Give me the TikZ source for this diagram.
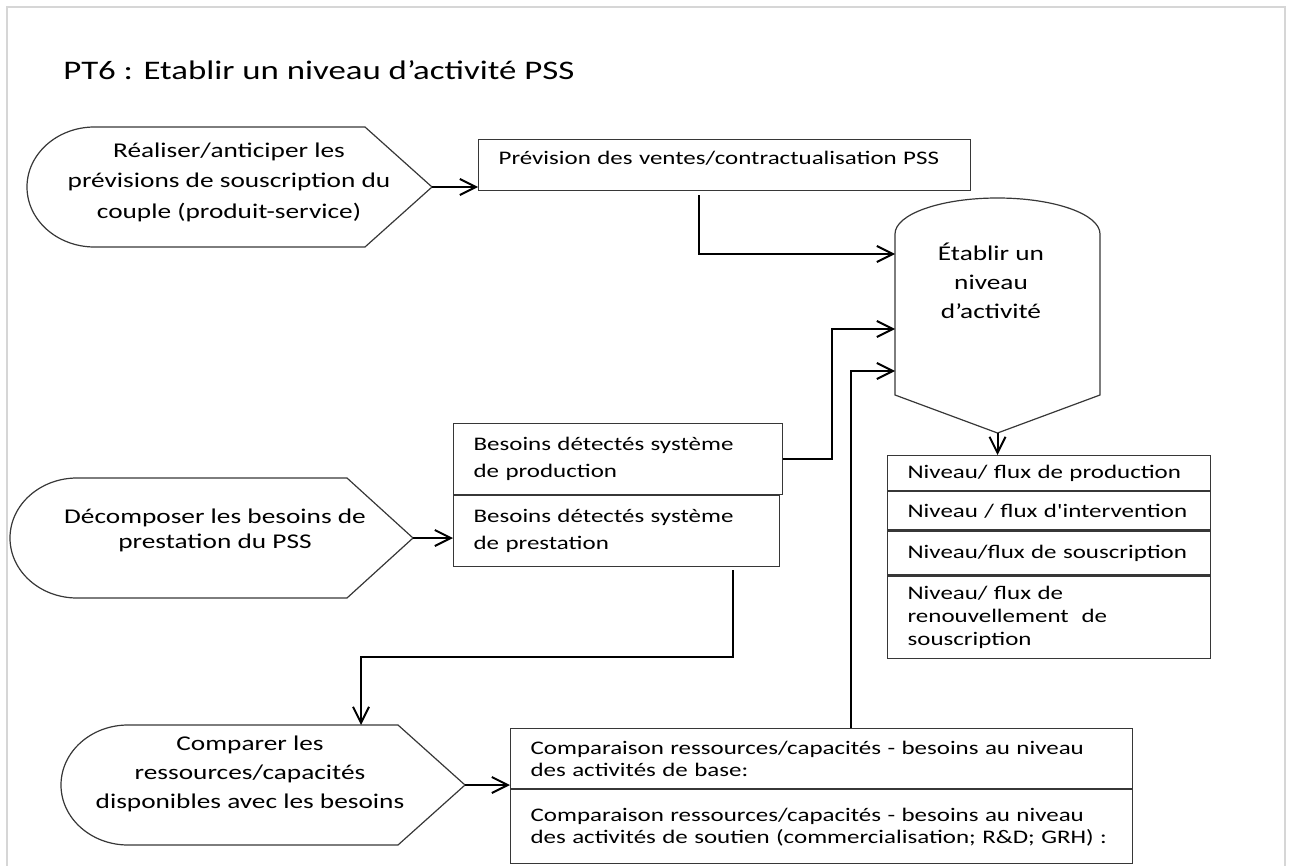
\documentclass[tikz,border=0pt]{standalone}
\usepackage{fontspec}
\usepackage{tikz}
\usetikzlibrary{positioning,arrows.meta}
\newfontfamily\calib{Carlito}[FakeStretch=1.3]
\definecolor{framegray}{RGB}{214,214,214}
\definecolor{edgegray}{RGB}{55,55,55}

\begin{document}
\begin{tikzpicture}[x=0.5pt,y=-0.5pt,
  box/.style={rectangle,draw=edgegray,line width=0.6pt,inner xsep=10pt,inner ysep=0pt,align=left,anchor=north west,font=\calib\fontsize{9.6}{#1}\selectfont},
  box/.default=13.5,
  lbl/.style={inner sep=0pt,align=center,font=\calib\fontsize{10.5}{#1}\selectfont},
  outline/.style={draw=edgegray,line width=0.6pt},
  conn/.style={line width=1pt,-{Straight Barb[length=8pt,width=8pt]}}]
\useasboundingbox (0,0) rectangle (1290,866);
\draw[framegray,line width=1pt] (7,866) -- (7,7) -- (1285,7) -- (1285,866);

\node[anchor=base west,inner sep=0pt,font=\calib\fontsize{13.4}{16}\selectfont] (title) at (63,80) {PT6 : Etablir un niveau d’activité PSS};

% left process shapes
\coordinate (Atip) at (432,187);
\coordinate (Btip) at (413,538);
\coordinate (Ctip) at (465,785);
\coordinate (Ctop) at (361,725);
\draw[outline] (94.5,127) -- (365,127) -- (Atip) -- (365,247) -- (94.5,247) arc[start angle=270,end angle=90,x radius=33.75pt,y radius=30pt] -- cycle;
\draw[outline] (77,478) -- (347,478) -- (Btip) -- (347,598) -- (77,598) arc[start angle=270,end angle=90,x radius=33.5pt,y radius=30pt] -- cycle;
\draw[outline] (128,725) -- (398,725) -- (Ctip) -- (398,845) -- (128,845) arc[start angle=270,end angle=90,x radius=33.5pt,y radius=30pt] -- cycle;
\node[lbl=15.25] (realiser) at (229,182) {Réaliser/anticiper les\\prévisions de souscription du\\couple (produit-service)};
\node[lbl=12.5] (decomp) at (215,530) {Décomposer les besoins de\\prestation du PSS};
\node[lbl=14.5] (comparer) at (250,774) {Comparer les\\ressources/capacités\\disponibles avec les besoins};

% central shape
\coordinate (cylpt) at (997.5,433);
\coordinate (inprev) at (895,254);
\coordinate (inprod) at (895,329);
\coordinate (incmp) at (895,371);
\draw[outline] (895,395) -- (895,234) arc[start angle=180,end angle=0,x radius=51.25pt,y radius=18pt] -- (1100,395) -- (cylpt) -- cycle;
\node[lbl=14.5] (niveau) at (991,281) {Établir un\\niveau\\d’activité};

% boxes
\node[box,text width=226pt,minimum height=25.5pt,text depth=7.5pt] (prev) at (478,139) {Prévision des ventes/contractualisation PSS};
\node[box,text width=144.5pt,minimum height=35.5pt] (prod) at (453,423) {Besoins détectés système\\de production};
\node[box,text width=143pt,minimum height=35.5pt,below=0pt of prod.south west,anchor=north west] (prest) {Besoins détectés système\\de prestation};
\node[box,text width=141.5pt,minimum height=17.5pt] (row1) at (887,455) {Niveau/ flux de production};
\node[box,text width=141.5pt,minimum height=19pt,below=0pt of row1] (row2) {Niveau / flux d'intervention};
\node[box,text width=141.5pt,minimum height=22pt,below=0pt of row2] (row3) {Niveau/flux de souscription};
\node[box=11.5,text width=141.5pt,minimum height=41pt,below=0pt of row3] (row4) {Niveau/ flux de\\renouvellement\ \ de\\souscription};
\node[box=11,text width=291pt,minimum height=30pt] (cmp1) at (510,728) {Comparaison ressources/capacités - besoins au niveau\\des activités de base:};
\node[box=11,text width=291pt,minimum height=37pt,below=0pt of cmp1] (cmp2) {Comparaison ressources/capacités - besoins au niveau\\des activités de soutien (commercialisation; R\&D; GRH) :};

% connectors
\draw[conn] (Atip) -- (Atip -| prev.west);
\draw[conn] (Btip) -- (Btip -| prest.west);
\draw[conn] (Ctip) -- (Ctip -| cmp1.west);
\draw[conn] ([xshift=110.5pt,yshift=-2pt]prev.south west) |- (inprev);
\draw[conn] (prod.east) -- ++(24.5pt,0pt) |- (inprod);
\draw[conn] ([xshift=170.5pt]cmp1.north west) |- (incmp);
\draw[conn] ([xshift=140pt,yshift=-1.5pt]prest.south west) -- ++(0pt,-43.5pt) -| (Ctop);
\draw[conn] (cylpt) -- (cylpt |- row1.north);
\end{tikzpicture}
\end{document}
